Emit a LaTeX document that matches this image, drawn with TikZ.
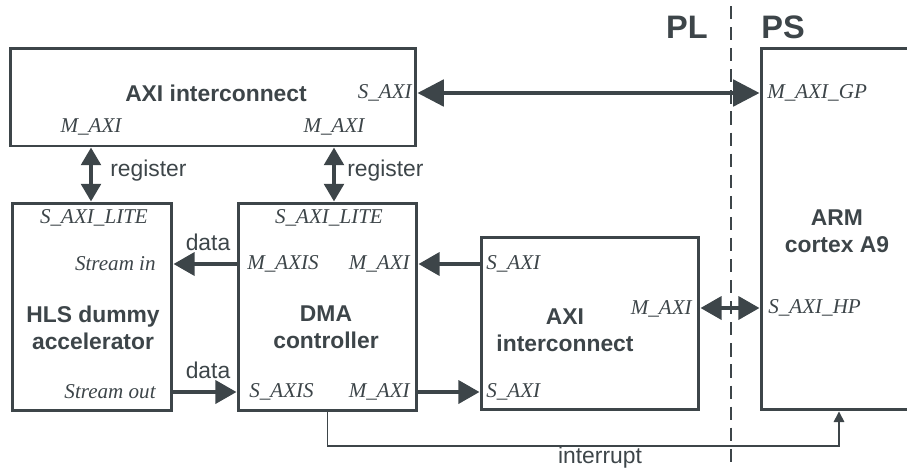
\documentclass[tikz,border=0pt]{standalone}
\usepackage{fontspec}
\setmainfont{Liberation Sans}
\newfontfamily\portfont{Liberation Serif}
\usepackage{tikz}
\usetikzlibrary{arrows.meta}
\usetikzlibrary{positioning}
\definecolor{ardoise}{HTML}{3D4549}

\tikzset{
  bloc/.style={draw=ardoise, line width=1.7pt, inner sep=0pt},
  titre/.style={font=\fontsize{13}{15.5}\selectfont\bfseries, text=ardoise, align=center},
  port/.style={font=\portfont\itshape\fontsize{12}{13}\selectfont, text=ardoise, inner sep=0pt},
  etiq/.style={font=\fontsize{13}{15}\selectfont, text=ardoise, inner sep=0pt},
  zone/.style={font=\fontsize{18.5}{20}\selectfont\bfseries, text=ardoise},
  bus/.style={draw=ardoise, line width=2.3pt, -{Triangle[length=12pt,width=13pt]}},
  busdouble/.style={draw=ardoise, line width=2.3pt, {Triangle[length=12pt,width=13pt]}-{Triangle[length=12pt,width=13pt]}},
  busreg/.style={draw=ardoise, line width=2.3pt, {Triangle[length=10pt,width=11pt]}-{Triangle[length=10pt,width=11pt]}},
  busgros/.style={draw=ardoise, line width=2.3pt, {Triangle[length=15pt,width=15pt]}-{Triangle[length=15pt,width=15pt]}},
  fil/.style={draw=ardoise, line width=0.8pt, -{Triangle[length=6pt,width=6pt]}}
}

\begin{document}
\begin{tikzpicture}[x=0.02cm, y=-0.02cm]
    % Cadre
    \useasboundingbox (0,0) rectangle (907,471);
    \clip (0,0) rectangle (907,471);

    % Blocs
    \node[bloc, minimum width=8.12cm, minimum height=1.96cm] (axitop) at (213,97) {};
    \node[bloc, minimum width=3.2cm, minimum height=4.16cm] (hls) at (92,307) {};
    \node[bloc, minimum width=3.58cm, minimum height=4.16cm] (dma) at (327.5,307) {};
    \node[bloc, minimum width=4.36cm, minimum height=3.46cm] (axibot) at (590,323.5) {};
    \node[bloc, minimum width=3.98cm, minimum height=7.24cm] (arm) at (860.5,229) {};

    % Titres des blocs
    \node[titre] (taxitop) at (216,93) {AXI interconnect};
    \node[titre] (thls) at (93,328) {HLS dummy\\accelerator};
    \node[titre] (tdma) at (326,327) {DMA\\controller};
    \node[titre] (taxibot) at (565,330) {AXI\\interconnect};
    \node[titre] (tarm) at (837,231) {ARM\\cortex A9};

    % Ports
    \node[port, anchor=east] (saxitop) at (412,93) {S\_AXI};
    \node[port] (mhls) at (91,127) {M\_AXI};
    \node[port] (mdma) at (334,127) {M\_AXI};
    \node[port] (litehls) at (94,218) {S\_AXI\_LITE};
    \node[port] (litedma) at (329,218) {S\_AXI\_LITE};
    \node[port, anchor=east] (strin) at (156,264) {Stream in};
    \node[port, anchor=east] (strout) at (156,392) {Stream out};
    \node[port, anchor=west] (maxis) at (247,264) {M\_AXIS};
    \node[port, anchor=east] (maxia) at (410,264) {M\_AXI};
    \node[port, anchor=west] (saxis) at (249,392) {S\_AXIS};
    \node[port, anchor=east] (maxib) at (410,392) {M\_AXI};
    \node[port, anchor=west] (saxia) at (486,264) {S\_AXI};
    \node[port, anchor=west] (saxib) at (486,392) {S\_AXI};
    \node[port, anchor=east] (mbot) at (692,309) {M\_AXI};
    \node[port, anchor=west] (mgp) at (767,93) {M\_AXI\_GP};
    \node[port, anchor=west] (shp) at (768,308) {S\_AXI\_HP};

    % PL / PS
    \node[zone] (pl) at (687,27) {PL};
    \node[zone] (ps) at (783,27) {PS};
    \draw[ardoise, line width=1.7pt, dash pattern=on 7.5pt off 4.5pt] (731,6) -- (731,462);

    % Liaisons
    \draw[busgros] (axitop.east |- saxitop) -- (arm.west |- saxitop);
    \draw[busreg] (axitop.south -| mhls) -- (hls.north -| mhls);
    \draw[busreg] (axitop.south -| mdma) -- (dma.north -| mdma);
    \draw[bus] (dma.west |- strin) -- (hls.east |- strin);
    \draw[bus] (hls.east |- strout) -- (dma.west |- strout);
    \draw[bus] (axibot.west |- maxia) -- (dma.east |- maxia);
    \draw[bus] (dma.east |- saxib) -- (axibot.west |- saxib);
    \draw[busdouble] (axibot.east |- shp) -- (arm.west |- shp);
    \coordinate (irq) at (839,446);
    \draw[fil] (dma.south) |- (irq) -- (arm.south -| irq);

    % Etiquettes
    \node[etiq, anchor=west] (reg1) at (110,171) {register};
    \node[etiq, anchor=west] (reg2) at (347,171) {register};
    \node[etiq] (data1) at (208,242) {data};
    \node[etiq] (data2) at (208,370) {data};
    \node[etiq] (intr) at (600,458) {interrupt};
\end{tikzpicture}
\end{document}
